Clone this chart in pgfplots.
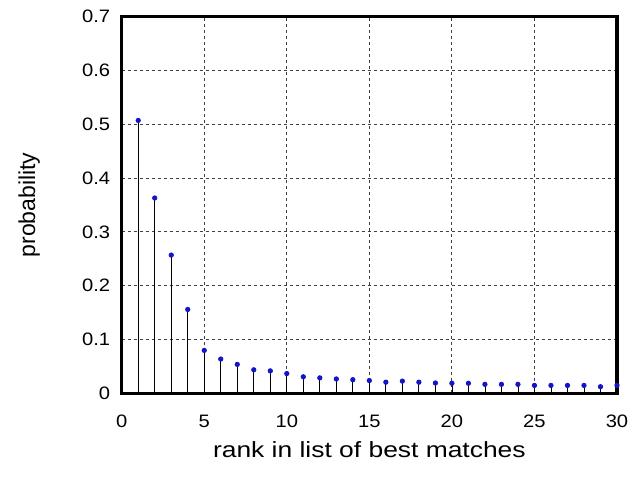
\documentclass[border=0pt]{standalone}
\usepackage{fontspec}
\setmainfont{Liberation Sans}[FakeStretch=1.2]
\newfontfamily\plainsans{Liberation Sans}
\newfontfamily\ticksans{Liberation Sans}[FakeStretch=1.12]
\usepackage{pgfplots}
\pgfplotsset{compat=1.18}
\definecolor{dotblue}{RGB}{20,20,200}
\begin{document}
\begin{tikzpicture}
\begin{axis}[
  scale only axis,
  width=495.3pt, height=377pt,
  xmin=0, xmax=30, ymin=0, ymax=0.7,
  xtick={0,5,10,15,20,25,30},
  ytick={0,0.1,0.2,0.3,0.4,0.5,0.6,0.7},
  yticklabels={0,0.1,0.2,0.3,0.4,0.5,0.6,0.7},
  /pgf/number format/assume math mode=true,
  tick label style={font=\ticksans\fontsize{18}{20}\selectfont},
  xticklabel style={yshift=-18pt},
  yticklabel style={xshift=-8pt},
  major tick length=0pt,
  grid=major,
  major grid style={black!75, dash pattern=on 3.5pt off 2.5pt, line width=0.9pt},
  axis line style={line width=3.3pt},
  axis on top=false,
  clip=false,
  xlabel={rank in list of best matches},
  ylabel={probability},
  every axis x label/.style={at={(axis description cs:0.5,-0.148)},anchor=center,font=\fontsize{22}{24}\selectfont},
  every axis y label/.style={at={(axis description cs:-0.187,0.5)},anchor=center,rotate=90,font=\plainsans\fontsize{23}{25}\selectfont},
]
\addplot[ycomb, black, line width=0.8pt, mark=*, mark size=2.2pt, mark options={draw=dotblue, fill=dotblue}] coordinates {
(1,0.507) (2,0.363) (3,0.257) (4,0.156) (5,0.080) (6,0.064) (7,0.054) (8,0.044) (9,0.042) (10,0.037)
(11,0.031) (12,0.029) (13,0.027) (14,0.0256) (15,0.024) (16,0.021) (17,0.023) (18,0.021) (19,0.0195) (20,0.019)
(21,0.019) (22,0.017) (23,0.017) (24,0.017) (25,0.015) (26,0.015) (27,0.015) (28,0.015) (29,0.0126) (30,0.015)
};
\coordinate (sw) at (rel axis cs:0,0);
\coordinate (ne) at (rel axis cs:1,1);
\end{axis}
\path ([shift={(-121.7pt,-84.5pt)}]sw) rectangle ([shift={(17pt,16.5pt)}]ne);
\end{tikzpicture}
\end{document}
